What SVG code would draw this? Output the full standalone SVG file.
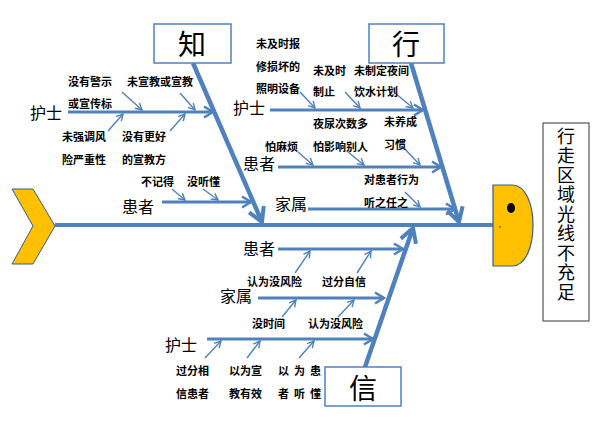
<svg xmlns="http://www.w3.org/2000/svg" width="600" height="424" viewBox="0 0 600 424">
<defs>
<marker id="big" markerUnits="userSpaceOnUse" viewBox="0 0 20 20" markerWidth="20" markerHeight="20" refX="17" refY="10" orient="auto">
<path d="M3,2 L17,10 L3,18" fill="none" stroke="#4f81bd" stroke-width="4"/>
</marker>
<marker id="mid" markerUnits="userSpaceOnUse" viewBox="0 0 14 14" markerWidth="14" markerHeight="14" refX="12" refY="7" orient="auto">
<path d="M3,1.5 L12,7 L3,12.5" fill="none" stroke="#4f81bd" stroke-width="2.5"/>
</marker>
<marker id="sm" markerUnits="userSpaceOnUse" viewBox="0 0 10 10" markerWidth="10" markerHeight="10" refX="9" refY="5" orient="auto">
<path d="M2.5,1.5 L9,5 L2.5,8.5" fill="none" stroke="#4f81bd" stroke-width="1.4"/>
</marker>
</defs>
<style>
.bone{stroke:#4f81bd;stroke-width:4.5;fill:none;marker-end:url(#big)}
.br{stroke:#4f81bd;stroke-width:3;fill:none;marker-end:url(#mid)}
.sa{stroke:#4f81bd;stroke-width:1.4;fill:none;marker-end:url(#sm)}
.t{font-family:"Noto Sans CJK SC","Liberation Sans",sans-serif;font-size:11px;font-weight:bold;fill:#000;dominant-baseline:central}
.c{font-family:"Noto Sans CJK SC","Liberation Sans",sans-serif;font-size:16px;fill:#000;dominant-baseline:central}
.big{font-family:"Noto Sans CJK SC","Liberation Sans",sans-serif;font-size:28px;fill:#000;text-anchor:middle;dominant-baseline:central}
.box{fill:#fff;stroke:#4f81bd;stroke-width:1.5}
.vt{font-family:"Noto Sans CJK SC","Liberation Sans",sans-serif;font-size:18px;fill:#000;writing-mode:vertical-rl;letter-spacing:1.5px}
</style>
<rect width="600" height="424" fill="#fff"/>

<g id="tail"><polygon points="12,189 33,189 55,226 33,264 12,264 33,226" fill="#ffc000" stroke="#385d8a" stroke-width="1"/></g>

<g id="connectors">
<line x1="55" y1="225" x2="494" y2="225" stroke="#4f81bd" stroke-width="4"/>
<line class="bone" x1="193" y1="63" x2="262" y2="222"/>
<line class="bone" x1="411" y1="63" x2="459" y2="222"/>
<line class="bone" x1="365" y1="367" x2="413" y2="228"/>

<line class="br" x1="68" y1="112" x2="213" y2="112"/>
<line class="br" x1="162" y1="202" x2="251" y2="202"/>
<line class="br" x1="270" y1="110" x2="423" y2="110"/>
<line class="br" x1="278" y1="167" x2="441" y2="167"/>
<line class="br" x1="308" y1="209" x2="455" y2="209"/>
<line class="br" x1="278" y1="249" x2="403" y2="249"/>
<line class="br" x1="258" y1="298" x2="384" y2="298"/>
<line class="br" x1="207" y1="339" x2="373" y2="339"/>

<line class="sa" x1="122" y1="92" x2="142" y2="110"/>
<line class="sa" x1="180" y1="93" x2="195" y2="110"/>
<line class="sa" x1="108" y1="131" x2="123" y2="114"/>
<line class="sa" x1="170" y1="131" x2="185" y2="114"/>
<line class="sa" x1="172" y1="189" x2="185" y2="200"/>
<line class="sa" x1="203" y1="189" x2="218" y2="200"/>
<line class="sa" x1="300" y1="92" x2="315" y2="108"/>
<line class="sa" x1="345" y1="92" x2="360" y2="108"/>
<line class="sa" x1="395" y1="93" x2="413" y2="108"/>
<line class="sa" x1="298" y1="152" x2="313" y2="165"/>
<line class="sa" x1="348" y1="152" x2="364" y2="165"/>
<line class="sa" x1="403" y1="147" x2="420" y2="165"/>
<line class="sa" x1="405" y1="192" x2="420" y2="207"/>
<line class="sa" x1="295" y1="273" x2="310" y2="251"/>
<line class="sa" x1="357" y1="273" x2="371" y2="251"/>
<line class="sa" x1="282" y1="317" x2="296" y2="300"/>
<line class="sa" x1="338" y1="317" x2="354" y2="300"/>
<line class="sa" x1="205" y1="358" x2="221" y2="341"/>
<line class="sa" x1="247" y1="358" x2="260" y2="341"/>
<line class="sa" x1="299" y1="358" x2="314" y2="341"/>
</g>

<g id="head">
<path d="M493,185 H512 C526,185 533,205 533,225 C533,246 526,266 512,266 H493 Z" fill="#ffc000" stroke="#385d8a" stroke-width="1.2"/>
<ellipse cx="511" cy="208" rx="4" ry="5" fill="#000"/>
<circle cx="500" cy="227" r="0.7" fill="#000"/>
</g>

<g id="problem">
<rect x="543" y="123" width="46" height="198" fill="#fff" stroke="#555" stroke-width="1.2"/>
<text class="vt" x="566" y="127">行走区域光线不充足</text>
</g>

<g id="zhi"><rect class="box" x="154" y="24" width="77" height="39"/><text class="big" x="192" y="43">知</text></g>
<g id="xing"><rect class="box" x="369" y="24" width="75" height="39"/><text class="big" x="406" y="43">行</text></g>
<g id="xin"><rect class="box" x="325" y="367" width="76" height="39"/><text class="big" x="363" y="387">信</text></g>

<g id="zhi-nurse">
<text class="c" x="30" y="112">护士</text>
<text class="t" x="68" y="81">没有警示</text>
<text class="t" x="68" y="103">或宣传标</text>
<text class="t" x="127" y="81">未宣教或宣教</text>
<text class="t" x="62" y="136">未强调风</text>
<text class="t" x="62" y="159">险严重性</text>
<text class="t" x="122" y="136">没有更好</text>
<text class="t" x="122" y="159">的宣教方</text>
</g>
<g id="zhi-patient">
<text class="c" x="122" y="206">患者</text>
<text class="t" x="141" y="181">不记得</text>
<text class="t" x="187" y="181">没听懂</text>
</g>

<g id="xing-nurse">
<text class="c" x="233" y="107">护士</text>
<text class="t" x="256" y="43">未及时报</text>
<text class="t" x="256" y="66">修损坏的</text>
<text class="t" x="256" y="88">照明设备</text>
<text class="t" x="313" y="70">未及时</text>
<text class="t" x="313" y="91">制止</text>
<text class="t" x="354" y="70">未制定夜间</text>
<text class="t" x="354" y="91">饮水计划</text>
</g>
<g id="xing-patient">
<text class="c" x="243" y="163">患者</text>
<text class="t" x="265" y="146">怕麻烦</text>
<text class="t" x="313" y="123">夜尿次数多</text>
<text class="t" x="313" y="146">怕影响别人</text>
<text class="t" x="384" y="121">未养成</text>
<text class="t" x="384" y="144">习惯</text>
</g>
<g id="xing-family">
<text class="c" x="275" y="203" font-size="17">家属</text>
<text class="t" x="364" y="179">对患者行为</text>
<text class="t" x="364" y="202">听之任之</text>
</g>

<g id="xin-patient">
<text class="c" x="243" y="248">患者</text>
<text class="t" x="247" y="281">认为没风险</text>
<text class="t" x="322" y="281">过分自信</text>
</g>
<g id="xin-family">
<text class="c" x="220" y="295">家属</text>
<text class="t" x="252" y="323">没时间</text>
<text class="t" x="308" y="323">认为没风险</text>
</g>
<g id="xin-nurse">
<text class="c" x="165" y="344">护士</text>
<text class="t" x="176" y="370">过分相</text>
<text class="t" x="176" y="393">信患者</text>
<text class="t" x="229" y="370">以为宣</text>
<text class="t" x="229" y="393">教有效</text>
<text class="t" x="278 294 310" y="370">以为患</text>
<text class="t" x="278 294 310" y="393">者听懂</text>
</g>
</svg>
